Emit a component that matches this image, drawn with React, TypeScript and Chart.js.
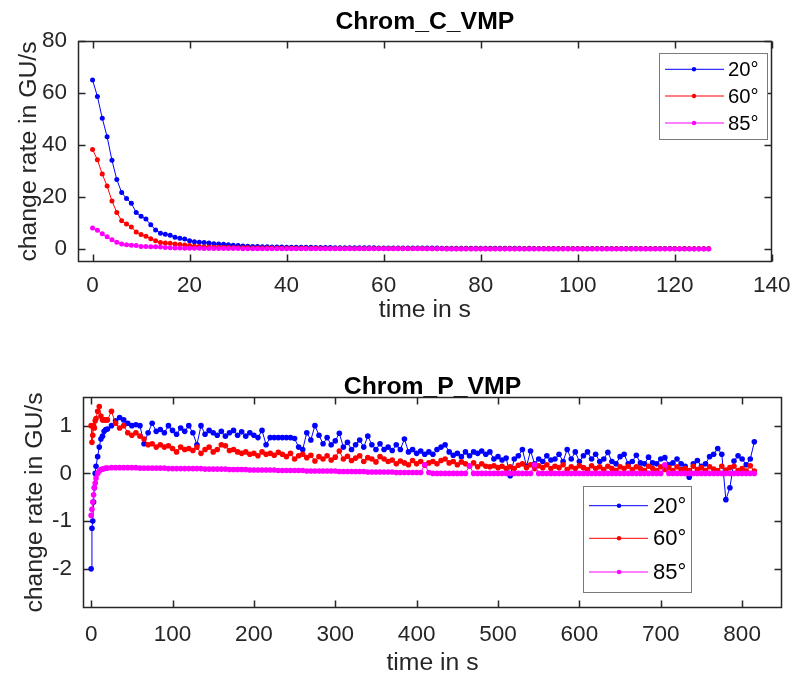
import React, { useEffect, useRef } from "react";
import { Chart, registerables } from "chart.js";

Chart.register(...registerables);

const FONT = "'Liberation Sans', Arial, Helvetica, sans-serif";
const AX = "#262626";

// ---------- Chrom_C_VMP ----------
const timeC = [
  0, 1, 2, 3, 4, 5, 6, 7, 8, 9, 10, 11, 12, 13, 14, 15, 16, 17, 18, 19,
  20, 21, 22, 23, 24, 25, 26, 27, 28, 29, 30, 31, 32, 33, 34, 35, 36, 37, 38, 39,
  40, 41, 42, 43, 44, 45, 46, 47, 48, 49, 50, 51, 52, 53, 54, 55, 56, 57, 58, 59,
  60, 61, 62, 63, 64, 65, 66, 67, 68, 69, 70, 71, 72, 73, 74, 75, 76, 77, 78, 79,
  80, 81, 82, 83, 84, 85, 86, 87, 88, 89, 90, 91, 92, 93, 94, 95, 96, 97, 98, 99,
  100, 101, 102, 103, 104, 105, 106, 107, 108, 109, 110, 111, 112, 113, 114, 115, 116, 117, 118, 119,
  120, 121, 122, 123, 124, 125, 126, 127,
];
const c20 = [
  65, 58.7, 50.3, 43.2, 34.1, 26.7, 21.7, 19.4, 17.6, 14.0,
  12.6, 11.5, 9.3, 7.3, 6.1, 5.7, 5.3, 4.5, 4.1, 3.8,
  3.2, 2.8, 2.6, 2.5, 2.3, 2.0, 1.9, 1.8, 1.6, 1.4,
  1.3, 1.2, 1.1, 1.0, 0.95, 0.9, 0.85, 0.8, 0.8, 0.75,
  0.7, 0.7, 0.7, 0.68, 0.7, 0.65, 0.6, 0.6, 0.6, 0.55,
  0.5, 0.5, 0.5, 0.5, 0.48, 0.5, 0.47, 0.45, 0.45, 0.42,
  0.4, 0.4, 0.4, 0.38, 0.4, 0.37, 0.36, 0.38, 0.35, 0.35,
  0.34, 0.35, 0.33, 0.32, 0.33, 0.3, 0.31, 0.3, 0.3, 0.28,
  0.3, 0.28, 0.27, 0.28, 0.26, 0.27, 0.25, 0.26, 0.25, 0.24,
  0.25, 0.24, 0.23, 0.24, 0.22, 0.23, 0.22, 0.21, 0.22, 0.2,
  0.21, 0.2, 0.2, 0.19, 0.2, 0.19, 0.18, 0.19, 0.18, 0.18,
  0.17, 0.18, 0.17, 0.16, 0.17, 0.16, 0.16, 0.15, 0.16, 0.15,
  0.15, 0.14, 0.15, 0.14, 0.14, 0.13, 0.14, 0.13,
];
const c60 = [
  38.3, 34.3, 28.8, 24.2, 18.5, 14.0, 10.9, 9.6, 8.5, 6.5,
  5.6, 4.9, 3.9, 3.2, 2.5, 2.3, 2.2, 1.9, 1.7, 1.5,
  1.3, 1.1, 1.0, 0.8, 0.8, 0.7, 0.65, 0.6, 0.55, 0.5,
  0.5, 0.45, 0.45, 0.4, 0.4, 0.38, 0.36, 0.35, 0.33, 0.32,
  0.3, 0.3, 0.28, 0.28, 0.27, 0.26, 0.25, 0.25, 0.24, 0.23,
  0.22, 0.22, 0.21, 0.21, 0.2, 0.2, 0.19, 0.19, 0.18, 0.18,
  0.17, 0.17, 0.17, 0.16, 0.16, 0.16, 0.15, 0.15, 0.15, 0.14,
  0.14, 0.14, 0.13, 0.13, 0.13, 0.13, 0.12, 0.12, 0.12, 0.12,
  0.11, 0.11, 0.11, 0.11, 0.11, 0.1, 0.1, 0.1, 0.1, 0.1,
  0.1, 0.09, 0.09, 0.09, 0.09, 0.09, 0.09, 0.08, 0.08, 0.08,
  0.08, 0.08, 0.08, 0.08, 0.07, 0.07, 0.07, 0.07, 0.07, 0.07,
  0.07, 0.07, 0.06, 0.06, 0.06, 0.06, 0.06, 0.06, 0.06, 0.06,
  0.06, 0.05, 0.05, 0.05, 0.05, 0.05, 0.05, 0.05,
];
const c85 = [
  8.1, 7.2, 5.9, 4.7, 3.6, 2.6, 1.9, 1.6, 1.4, 1.3,
  1.0, 0.95, 0.9, 0.85, 0.8, 0.6, 0.45, 0.4, 0.35, 0.3,
  0.3, 0.28, 0.25, 0.23, 0.22, 0.2, 0.19, 0.18, 0.17, 0.16,
  0.15, 0.14, 0.14, 0.13, 0.13, 0.12, 0.12, 0.11, 0.11, 0.1,
  0.1, 0.1, 0.09, 0.09, 0.09, 0.08, 0.08, 0.08, 0.08, 0.07,
  0.07, 0.07, 0.07, 0.07, 0.06, 0.06, 0.06, 0.06, 0.06, 0.06,
  0.05, 0.05, 0.05, 0.05, 0.05, 0.05, 0.05, 0.05, 0.05, 0.05,
  0.05, 0.05, 0.05, 0.04, 0.04, 0.04, 0.04, 0.04, 0.04, 0.04,
  0.04, 0.04, 0.04, 0.04, 0.04, 0.04, 0.04, 0.04, 0.04, 0.04,
  0.04, 0.04, 0.03, 0.03, 0.03, 0.03, 0.03, 0.03, 0.03, 0.03,
  0.03, 0.03, 0.03, 0.03, 0.03, 0.03, 0.03, 0.03, 0.03, 0.03,
  0.03, 0.03, 0.02, 0.02, 0.02, 0.02, 0.02, 0.02, 0.02, 0.02,
  0.02, 0.02, 0.02, 0.02, 0.02, 0.02, 0.02, 0.02,
];
const xTicksC = [0, 20, 40, 60, 80, 100, 120, 140];
const yTicksC = [0, 20, 40, 60, 80];

// ---------- Chrom_P_VMP ----------
const timeP = [
  0, 1, 2, 3, 4, 5, 6, 8, 10, 12, 14, 16, 18, 20,
  25, 30, 35, 40, 45, 50, 55, 60, 65, 70,
  75, 80, 85, 90, 95, 100, 105, 110, 115, 120,
  125, 130, 135, 140, 145, 150, 155, 160, 165, 170,
  175, 180, 185, 190, 195, 200, 205, 210, 215, 220,
  225, 230, 235, 240, 245, 250, 255, 260, 265, 270,
  275, 280, 285, 290, 295, 300, 305, 310, 315, 320,
  325, 330, 335, 340, 345, 350, 355, 360, 365, 370,
  375, 380, 385, 390, 395, 400, 405, 410, 415, 420,
  425, 430, 435, 440, 445, 450, 455, 460, 465, 470,
  475, 480, 485, 490, 495, 500, 505, 510, 515, 520,
  525, 530, 535, 540, 545, 550, 555, 560, 565, 570,
  575, 580, 585, 590, 595, 600, 605, 610, 615, 620,
  625, 630, 635, 640, 645, 650, 655, 660, 665, 670,
  675, 680, 685, 690, 695, 700, 705, 710, 715, 720,
  725, 730, 735, 740, 745, 750, 755, 760, 765, 770,
  775, 780, 785, 790, 795, 800, 805, 810, 815,
];
const p20 = [
  -2.0, -1.15, -1.0, -0.6, -0.3, 0.0, 0.15, 0.35, 0.55, 0.72, 0.78, 0.88, 0.92, 0.93,
  1.0, 1.1, 1.17, 1.12, 1.05, 1.0, 1.02, 1.0, 0.62, 0.85,
  1.05, 0.88, 0.92, 0.85, 1.0, 0.9, 0.82, 0.95, 0.88, 1.0,
  0.85, 0.6, 1.0, 0.82, 0.9, 0.85, 0.8, 0.88, 0.78, 0.85,
  0.9, 0.8, 0.87, 0.78, 0.85, 0.8, 0.75, 0.9, 0.6, 0.75,
  0.75, 0.75, 0.75, 0.75, 0.75, 0.73, 0.55, 0.5, 0.85, 0.7,
  1.0, 0.8, 0.62, 0.75, 0.6, 0.68, 0.84, 0.55, 0.65, 0.5,
  0.6, 0.7, 0.55, 0.78, 0.6, 0.5, 0.62, 0.5, 0.55, 0.48,
  0.6, 0.5, 0.72, 0.45, 0.5, 0.42, 0.47, 0.4, 0.45, 0.4,
  0.5, 0.55, 0.6, 0.45, 0.38, 0.42, 0.35, 0.45, 0.37, 0.45,
  0.42, 0.47, 0.4, 0.45, 0.3, 0.35, 0.28, 0.32, -0.05, 0.3,
  0.37, 0.5, 0.15, 0.47, 0.2, 0.3, 0.25, 0.37, 0.28, 0.3,
  0.4, 0.25, 0.5, 0.3, 0.45, 0.25, 0.37, 0.45, 0.3, 0.4,
  0.25, 0.3, 0.44, 0.25, 0.2, 0.35, 0.4, 0.2, 0.25, 0.38,
  0.22, 0.2, 0.34, 0.22, 0.2, 0.3, 0.33, 0.18, 0.22, 0.3,
  0.2, 0.15, -0.08, 0.2, 0.27, 0.15, 0.2, 0.35, 0.4, 0.52,
  0.4, -0.55, -0.3, 0.26, 0.37, 0.3, 0.18, 0.3, 0.66,
];
const p60 = [
  1.0, 0.65, 0.8, 1.0, 0.95, 1.1, 1.15, 1.3, 1.4, 1.2, 1.12, 1.12, 1.12, 1.12,
  1.3, 1.05, 0.95, 1.0, 0.85, 0.8, 0.85, 0.78, 0.72, 0.6,
  0.62, 0.55, 0.6, 0.55, 0.58, 0.52, 0.45, 0.55, 0.5, 0.52,
  0.48, 0.55, 0.42, 0.5, 0.55, 0.45, 0.5, 0.6, 0.58, 0.48,
  0.5, 0.45, 0.42, 0.45, 0.4, 0.42, 0.37, 0.45, 0.4, 0.42,
  0.38, 0.44, 0.4, 0.35, 0.42, 0.3, 0.37, 0.4, 0.33, 0.38,
  0.26, 0.35, 0.3, 0.37, 0.28, 0.34, 0.47, 0.3, 0.36, 0.27,
  0.32, 0.37, 0.25, 0.33, 0.3, 0.24, 0.35, 0.3, 0.25, 0.28,
  0.2, 0.26, 0.22, 0.18, 0.27, 0.2, 0.25, 0.17, 0.22, 0.25,
  0.2, 0.27, 0.3, 0.22, 0.25, 0.18, 0.24, 0.2, 0.15, 0.22,
  0.14, 0.2, 0.15, 0.14, 0.16, 0.12, 0.15, 0.1, 0.14, 0.1,
  0.17, 0.2, 0.12, 0.18, 0.1, 0.16, 0.12, 0.18, 0.1, 0.15,
  0.12, 0.18, 0.08, 0.14, 0.1, 0.16, 0.12, 0.08, 0.16, 0.1,
  0.14, 0.08, 0.15, 0.1, 0.06, 0.14, 0.1, 0.15, 0.08, 0.14,
  0.1, 0.06, 0.15, 0.1, 0.06, 0.14, 0.08, 0.12, 0.06, 0.14,
  0.08, 0.1, 0.06, 0.15, 0.08, 0.12, 0.06, 0.14, 0.09, 0.06,
  0.15, 0.07, 0.12, 0.15, 0.06, 0.1, 0.05, 0.16, 0.05,
];
const p85 = [
  -0.88, -0.75, -0.6, -0.45, -0.3, -0.2, -0.1, 0.0, 0.05, 0.08, 0.09, 0.1, 0.11, 0.11,
  0.12, 0.12, 0.12, 0.12, 0.12, 0.12, 0.12, 0.11, 0.11, 0.11,
  0.11, 0.11, 0.11, 0.11, 0.1, 0.1, 0.1, 0.1, 0.1, 0.1,
  0.1, 0.1, 0.1, 0.09, 0.09, 0.09, 0.09, 0.09, 0.09, 0.08,
  0.08, 0.08, 0.08, 0.08, 0.07, 0.07, 0.07, 0.07, 0.07, 0.07,
  0.07, 0.06, 0.06, 0.06, 0.06, 0.06, 0.06, 0.06, 0.05, 0.05,
  0.05, 0.05, 0.05, 0.05, 0.05, 0.05, 0.04, 0.04, 0.04, 0.04,
  0.04, 0.04, 0.04, 0.03, 0.03, 0.03, 0.03, 0.03, 0.03, 0.03,
  0.02, 0.02, 0.02, 0.02, 0.02, 0.02, 0.02, 0.18, 0.02, 0.0,
  0.0, 0.0, 0.0, 0.0, 0.0, 0.0, 0.0, 0.0, 0.16, 0.0,
  0.0, 0.0, 0.0, 0.0, 0.0, 0.0, 0.0, 0.0, 0.0, 0.0,
  0.0, 0.0, 0.0, 0.0, 0.18, 0.0, 0.0, 0.0, 0.0, 0.0,
  0.0, 0.0, 0.0, 0.0, 0.0, 0.0, 0.0, 0.0, 0.0, 0.0,
  0.0, 0.0, 0.0, 0.0, 0.0, 0.0, 0.0, 0.0, 0.0, 0.0,
  0.0, 0.0, 0.0, 0.0, 0.0, 0.0, 0.18, 0.0, 0.0, 0.0,
  0.0, 0.0, 0.0, 0.0, 0.0, 0.0, 0.0, 0.0, 0.0, 0.0,
  0.0, 0.0, 0.0, 0.0, 0.0, 0.0, 0.0, 0.0, 0.0,
];
const xTicksP = [0, 100, 200, 300, 400, 500, 600, 700, 800];
const yTicksP = [-2, -1, 0, 1];

const seriesLabels = ["20°", "60°", "85°"];
const seriesColors = ["#0000FF", "#FF0000", "#FF00FF"];

function pairs(xs: number[], ys: number[]) {
  return xs.map((x, i) => ({ x, y: ys[i] }));
}

const framePlugin = {
  id: "matlabFrame",
  beforeDatasetsDraw(chart: any) {
    const { ctx, chartArea: a, scales } = chart;
    const tl = 7;
    ctx.save();
    ctx.strokeStyle = AX;
    ctx.lineWidth = 1.5;
    const L = Math.round(a.left) + 0.5;
    const R = Math.round(a.right) - 0.5;
    const T = Math.round(a.top) + 0.5;
    const B = Math.round(a.bottom) - 0.5;
    ctx.beginPath();
    scales.x.ticks.forEach((t: any) => {
      const p = Math.round(scales.x.getPixelForValue(t.value)) + 0.5;
      ctx.moveTo(p, B);
      ctx.lineTo(p, B - tl);
      ctx.moveTo(p, T);
      ctx.lineTo(p, T + tl);
    });
    scales.y.ticks.forEach((t: any) => {
      const p = Math.round(scales.y.getPixelForValue(t.value)) + 0.5;
      ctx.moveTo(L, p);
      ctx.lineTo(L + tl, p);
      ctx.moveTo(R, p);
      ctx.lineTo(R - tl, p);
    });
    ctx.stroke();
    ctx.strokeRect(L, T, R - L, B - T);
    ctx.restore();
  },
};

const boxLegendPlugin = {
  id: "boxLegend",
  afterDraw(chart: any, _args: any, opts: any) {
    if (!opts || !opts.box) return;
    const { ctx } = chart;
    const { box, rows, line, mark, textX, size } = opts;
    ctx.save();
    ctx.fillStyle = "#ffffff";
    ctx.fillRect(box[0], box[1], box[2] - box[0], box[3] - box[1]);
    ctx.strokeStyle = "#7a7a7a";
    ctx.lineWidth = 1;
    ctx.strokeRect(box[0] + 0.5, box[1] + 0.5, box[2] - box[0], box[3] - box[1]);
    chart.data.datasets.forEach((ds: any, i: number) => {
      const y = rows[i];
      ctx.strokeStyle = ds.borderColor;
      ctx.lineWidth = 1;
      ctx.beginPath();
      ctx.moveTo(line[0], y);
      ctx.lineTo(line[1], y);
      ctx.stroke();
      ctx.fillStyle = ds.borderColor;
      ctx.beginPath();
      ctx.arc(mark, y, 2.2, 0, Math.PI * 2);
      ctx.fill();
      ctx.fillStyle = "#000000";
      ctx.font = `${size}px ${FONT}`;
      ctx.textAlign = "left";
      ctx.textBaseline = "middle";
      ctx.fillText(ds.label, textX, y + 1);
    });
    ctx.restore();
  },
};

function makeConfig(p: {
  xs: number[];
  series: number[][];
  xMin: number;
  xMax: number;
  yMin: number;
  yMax: number;
  xTicks: number[];
  yTicks: number[];
  title: string;
  titlePad: { top: number; bottom: number };
  yWidth: number;
  xHeight: number;
  xTickPad: number;
  xTitlePadBottom: number;
  yTitlePadTop: number;
  radius: number;
  legend: any;
}) {
  const tickFont = { family: FONT, size: 22.5 };
  const labelFont = { family: FONT, size: 24.75 };
  return {
    type: "line" as const,
    data: {
      datasets: p.series.map((ys, i) => ({
        label: seriesLabels[i],
        data: pairs(p.xs, ys),
        borderColor: seriesColors[i],
        backgroundColor: seriesColors[i],
        pointBackgroundColor: seriesColors[i],
        pointBorderWidth: 0,
        pointRadius: p.radius,
        pointHoverRadius: p.radius,
        borderWidth: 1,
        tension: 0,
        fill: false,
        order: 3 - i,
      })),
    },
    options: {
      responsive: false,
      animation: false as const,
      events: [],
      layout: { padding: { left: 0, right: 19, top: 0, bottom: 0 } },
      plugins: {
        legend: { display: false },
        tooltip: { enabled: false },
        title: {
          display: true,
          text: p.title,
          color: "#000000",
          fullSize: false,
          font: { family: FONT, size: 24.75, weight: "bold" as const, lineHeight: "20px" },
          padding: p.titlePad,
        },
        boxLegend: p.legend,
      },
      scales: {
        x: {
          type: "linear" as const,
          min: p.xMin,
          max: p.xMax,
          afterBuildTicks: (s: any) => {
            s.ticks = p.xTicks.map((v) => ({ value: v }));
          },
          afterFit: (s: any) => {
            s.height = p.xHeight;
          },
          grid: { display: false, drawTicks: false },
          border: { display: false },
          ticks: {
            color: AX,
            font: tickFont,
            padding: p.xTickPad,
            maxRotation: 0,
            autoSkip: false,
            callback: (v: any) => String(v),
          },
          title: {
            display: true,
            text: "time in s",
            color: AX,
            font: labelFont,
            padding: { top: 0, bottom: p.xTitlePadBottom },
          },
        },
        y: {
          type: "linear" as const,
          min: p.yMin,
          max: p.yMax,
          afterBuildTicks: (s: any) => {
            s.ticks = p.yTicks.map((v) => ({ value: v }));
          },
          afterFit: (s: any) => {
            s.width = p.yWidth;
          },
          grid: { display: false, drawTicks: false },
          border: { display: false },
          ticks: {
            color: AX,
            font: tickFont,
            padding: 11,
            autoSkip: false,
            callback: (v: any) => String(v),
          },
          title: {
            display: true,
            text: "change rate in GU/s",
            color: AX,
            font: labelFont,
            padding: { top: p.yTitlePadTop, bottom: 0 },
          },
        },
      },
    },
    plugins: [framePlugin, boxLegendPlugin],
  };
}

export default function App() {
  const topRef = useRef<HTMLCanvasElement | null>(null);
  const botRef = useRef<HTMLCanvasElement | null>(null);

  useEffect(() => {
    if (!topRef.current || !botRef.current) return;
    const c1 = new Chart(
      topRef.current,
      makeConfig({
        xs: timeC,
        series: [c20, c60, c85],
        xMin: -3,
        xMax: 140,
        yMin: -5,
        yMax: 80,
        xTicks: xTicksC,
        yTicks: yTicksC,
        title: "Chrom_C_VMP",
        titlePad: { top: 12.5, bottom: 8.5 },
        yWidth: 78,
        xHeight: 78,
        xTickPad: 10.5,
        xTitlePadBottom: 15,
        yTitlePadTop: 14.6,
        radius: 2.5,
        legend: {
          box: [659, 53, 767, 139],
          rows: [69.3, 96, 123],
          line: [665, 724],
          mark: 694,
          textX: 728,
          size: 20.25,
        },
      }) as any
    );
    const c2 = new Chart(
      botRef.current,
      makeConfig({
        xs: timeP,
        series: [p20, p60, p85],
        xMin: -10,
        xMax: 849,
        yMin: -2.82,
        yMax: 1.6,
        xTicks: xTicksP,
        yTicks: yTicksP,
        title: "Chrom_P_VMP",
        titlePad: { top: 36.7, bottom: 0.3 },
        yWidth: 83,
        xHeight: 73,
        xTickPad: 13,
        xTitlePadBottom: 3.2,
        yTitlePadTop: 20.5,
        radius: 2.8,
        legend: {
          box: [583, 146, 691, 252],
          rows: [165.7, 198.3, 232],
          line: [589, 648],
          mark: 619,
          textX: 653,
          size: 22,
        },
      }) as any
    );
    return () => {
      c1.destroy();
      c2.destroy();
    };
  }, []);

  return (
    <div style={{ position: "absolute", left: 0, top: 0, width: 801, height: 681, background: "#ffffff" }}>
      <canvas
        ref={topRef}
        width={801}
        height={340}
        style={{ position: "absolute", left: 0, top: 0, width: 801, height: 340, display: "block" }}
      />
      <canvas
        ref={botRef}
        width={801}
        height={341}
        style={{ position: "absolute", left: 0, top: 340, width: 801, height: 341, display: "block" }}
      />
    </div>
  );
}
